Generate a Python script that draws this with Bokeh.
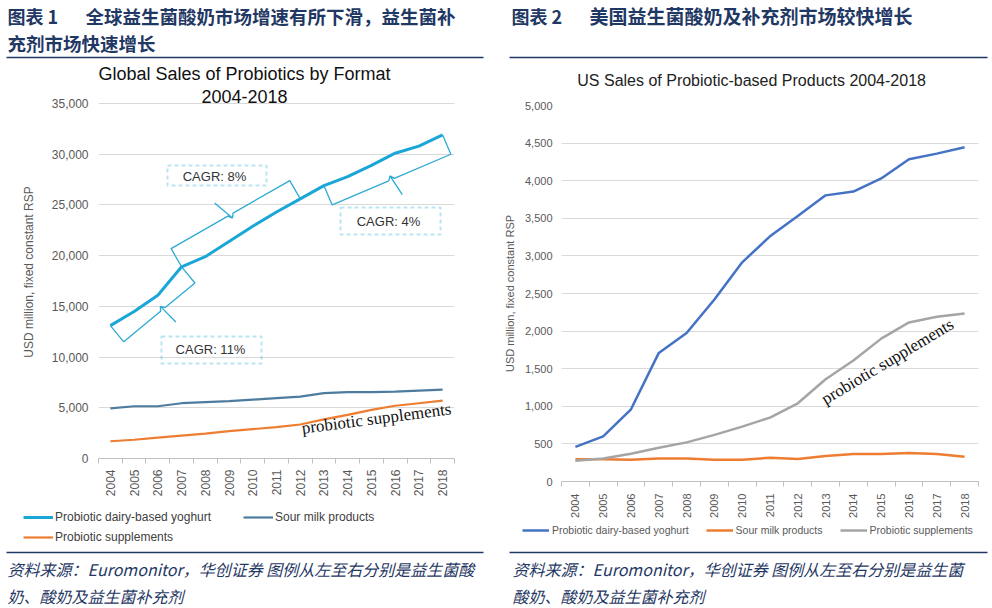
from math import hypot
from bokeh.plotting import figure
from bokeh.models import (Range1d, FixedTicker, NumeralTickFormatter, Label,
                          BoxAnnotation, Legend, LegendItem)
from bokeh.layouts import row, column
from bokeh.embed import file_html
from bokeh.resources import INLINE

# ---------------- data ----------------
years = [2004, 2005, 2006, 2007, 2008, 2009, 2010, 2011, 2012, 2013, 2014, 2015, 2016, 2017, 2018]

global_yoghurt = [13100, 14500, 16100, 18900, 19900, 21400, 22900, 24300, 25600, 26900, 27800, 28900, 30100, 30800, 31900]
global_sour = [4950, 5150, 5150, 5450, 5550, 5650, 5800, 5950, 6100, 6450, 6550, 6550, 6600, 6700, 6800]
global_supp = [1700, 1850, 2050, 2250, 2450, 2700, 2900, 3100, 3350, 3850, 4300, 4800, 5200, 5450, 5700]

us_yoghurt = [460, 600, 960, 1710, 1975, 2420, 2915, 3260, 3530, 3805, 3855, 4030, 4285, 4360, 4445]
us_sour = [295, 295, 290, 305, 305, 290, 290, 315, 300, 340, 365, 365, 380, 365, 330]
us_supp = [275, 305, 370, 450, 520, 620, 730, 850, 1040, 1360, 1610, 1900, 2115, 2190, 2235]

series_names = ["Probiotic dairy-based yoghurt", "Sour milk products", "Probiotic supplements"]
cagr_texts = ["CAGR: 11%", "CAGR: 8%", "CAGR: 4%"]
cagr_spans = [(0, 3), (3, 8), (9, 14)]

left_header = ["图表 1", "全球益生菌酸奶市场增速有所下滑，益生菌补", "充剂市场快速增长"]
right_header = ["图表 2", "美国益生菌酸奶及补充剂市场较快增长"]
left_footer = ["资料来源：Euromonitor，华创证券 图例从左至右分别是益生菌酸", "奶、酸奶及益生菌补充剂"]
right_footer = ["资料来源：Euromonitor，华创证券   图例从左至右分别是益生菌", "酸奶、酸奶及益生菌补充剂"]
left_title = ["Global Sales of Probiotics by Format", "2004-2018"]
right_title = "US  Sales  of  Probiotic-based  Products 2004-2018"
y_label = "USD million, fixed constant RSP"
note_text = "probiotic supplements"
left_ymax, right_ymax = 35000, 5000

NAVY = "#1F3864"
CJK = "Noto Sans CJK SC"
COL_L = ["#1AA6D6", "#4E7C9F", "#ED7D31"]
COL_R = ["#4472C4", "#ED7D31", "#A5A5A5"]
NAN = float("nan")


def blank(x0, x1, y0, y1):
    p = figure(width=x1 - x0, height=y1 - y0, x_range=Range1d(x0, x1), y_range=Range1d(y1, y0),
               output_backend="svg", toolbar_location=None, min_border=0,
               x_axis_location=None, y_axis_location=None, outline_line_color=None,
               background_fill_color="white", border_fill_color="white")
    p.frame_align = False
    p.xgrid.visible = False
    p.ygrid.visible = False
    return p


def txt(p, x, y, text, size, color="#000000", font="Liberation Sans", style="normal",
        align="left", angle=0.0):
    p.add_layout(Label(x=x, y=y, text=text, text_font=font, text_font_size=f"{size}px",
                       text_color=color, text_font_style=style, text_align=align,
                       text_baseline="middle", angle=angle))


def rule(p, x0, x1, y, color=NAVY, w=1.5):
    p.line([x0, x1], [y, y], line_color=color, line_width=w)


def chart(gx0, gy0, w, h, FL, FT, FR, FB, ytop, ytop_px):
    # FL.. are global (reference) pixel positions of the frame edges;
    # ytop is the top tick value, drawn at pixel row ytop_px (frame may reach higher)
    yend = ytop * (FB - FT) / (FB - ytop_px)
    p = figure(width=w, height=h, x_range=Range1d(years[0] - 0.5, years[-1] + 0.5),
               y_range=Range1d(0, yend), output_backend="svg", toolbar_location=None,
               min_border_left=FL - gx0, min_border_right=gx0 + w - FR,
               min_border_top=FT - gy0, min_border_bottom=gy0 + h - FB,
               outline_line_color=None, background_fill_color="white",
               border_fill_color="white")
    p.frame_align = False
    p.xgrid.grid_line_color = None
    p.ygrid.grid_line_color = "#D9D9D9"
    p.ygrid.grid_line_width = 1
    return p


def style_axes(p, fsize, ytop, ystep, xstand, ystand, lstand):
    p.xaxis.ticker = FixedTicker(ticks=years,
                                 minor_ticks=[y - 0.5 for y in years] + [years[-1] + 0.5])
    p.xaxis.major_label_orientation = 1.5708
    p.xaxis.major_tick_line_color = None
    p.xaxis.major_tick_out = 0
    p.xaxis.major_tick_in = 0
    p.xaxis.minor_tick_out = 5
    p.xaxis.minor_tick_in = 0
    p.xaxis.minor_tick_line_color = "#BFBFBF"
    p.xaxis.axis_line_color = "#BFBFBF"
    p.xaxis.major_label_standoff = xstand
    p.yaxis.ticker = FixedTicker(ticks=list(range(0, ytop + 1, ystep)))
    p.yaxis.formatter = NumeralTickFormatter(format="0,0")
    p.yaxis.axis_line_color = None
    p.yaxis.major_tick_line_color = None
    p.yaxis.minor_tick_line_color = None
    p.yaxis.major_tick_out = 0
    p.yaxis.major_label_standoff = ystand
    p.yaxis.axis_label = y_label
    p.yaxis.axis_label_standoff = lstand
    p.yaxis.axis_label_text_font = "Liberation Sans"
    p.yaxis.axis_label_text_font_size = fsize
    p.yaxis.axis_label_text_font_style = "normal"
    p.yaxis.axis_label_text_color = "#595959"
    for ax in (p.xaxis, p.yaxis):
        ax.major_label_text_font = "Liberation Sans"
        ax.major_label_text_font_size = fsize
        ax.major_label_text_color = "#595959"


def in_frame_label(p, FL, FB, x, y, text, size, color, font="Liberation Sans",
                   align="center", angle=0.0):
    p.add_layout(Label(x=x - FL, y=FB - y, x_units="screen", y_units="screen", text=text,
                       text_font=font, text_font_size=f"{size}px", text_color=color,
                       text_align=align, text_baseline="middle", angle=angle))


def dashed_box(p, FL, FB, x0, x1, y0, y1):
    p.add_layout(BoxAnnotation(left=x0 - FL, right=x1 - FL, top=FB - y0, bottom=FB - y1,
                               left_units="screen", right_units="screen", top_units="screen",
                               bottom_units="screen", fill_alpha=0, line_color="#1FA5D4",
                               line_width=2, line_dash="4 3", level="overlay"))


def make_legend(p, colors, widths, vx, vy, **kw):
    proxies = [p.line([NAN], [NAN], line_color=c, line_width=lw) for c, lw in zip(colors, widths)]
    leg = Legend(items=[LegendItem(label=n, renderers=[r]) for n, r in zip(series_names, proxies)],
                 location=(vx, vy), padding=0, margin=0, border_line_color=None,
                 background_fill_alpha=0, label_text_font="Liberation Sans", **kw)
    p.add_layout(leg)


# ================= LEFT HALF =================
HB = 85  # boundary between header strip and left chart frame
h1 = blank(0, 496, 0, HB)
txt(h1, 7, 15, left_header[0], 18, color=NAVY, font=CJK, style="bold")
txt(h1, 85, 15, left_header[1], 18.5, color=NAVY, font=CJK, style="bold")
txt(h1, 7, 42, left_header[2], 18.5, color=NAVY, font=CJK, style="bold")
rule(h1, 6, 483, 57)
txt(h1, 244, 73.5, left_title[0], 18, color="#111111", align="center")

L_FL, L_TOP, L_FR, L_FB = 98, 103, 454, 458
p1 = chart(0, HB, 496, 500 - HB, L_FL, HB, L_FR, L_FB, left_ymax, L_TOP)
style_axes(p1, "12px", left_ymax, 5000, 6, 10, 13)

p1.line(years, global_yoghurt, line_color=COL_L[0], line_width=3)
p1.line(years, global_sour, line_color=COL_L[1], line_width=2.2)
p1.line(years, global_supp, line_color=COL_L[2], line_width=2.2)

in_frame_label(p1, L_FL, L_FB, 244, 96, left_title[1], 18, "#111111")

sx_per = (L_FR - L_FL) / (years[-1] - years[0] + 1)
sy_per = (L_FB - L_TOP) / left_ymax


def to_px(x, y):
    return L_FL + (x - (years[0] - 0.5)) * sx_per, L_TOP + (left_ymax - y) * sy_per


def to_data(cx, cy):
    return (years[0] - 0.5) + (cx - L_FL) / sx_per, left_ymax - (cy - L_TOP) / sy_per


def brace(i0, i1, side, off=21, tick=18, frac=0.5, lean=8):
    x0, y0 = to_px(years[i0], global_yoghurt[i0])
    x1, y1 = to_px(years[i1], global_yoghurt[i1])
    dx, dy = x1 - x0, y1 - y0
    L = hypot(dx, dy)
    ux, uy = dx / L, dy / L
    nx, ny = -uy * side, ux * side
    mx, my = x0 + dx * frac, y0 + dy * frac
    pts = [(x0, y0), (x0 + nx * off, y0 + ny * off),
           (mx - ux * 3 + nx * off, my - uy * 3 + ny * off),
           (mx + nx * (off - 4), my + ny * (off - 4)),
           (mx + nx * (off + tick) + ux * lean, my + ny * (off + tick) + uy * lean),
           (mx + nx * (off - 4), my + ny * (off - 4)),
           (mx + ux * 3 + nx * off, my + uy * 3 + ny * off),
           (x1 + nx * off, y1 + ny * off), (x1, y1)]
    d = [to_data(a, b) for a, b in pts]
    p1.line([q[0] for q in d], [q[1] for q in d], line_color="#2EAAD4", line_width=1.3)


brace(cagr_spans[0][0], cagr_spans[0][1], +1, frac=0.55, lean=2)
brace(cagr_spans[1][0], cagr_spans[1][1], -1, frac=0.5, lean=-8)
brace(cagr_spans[2][0], cagr_spans[2][1], +1, frac=0.5, lean=4)

for (bx0, bx1, by0, by1, tx, ty), t in zip([(161, 261, 336, 363, 210, 349),
                                             (167, 266, 165, 185, 214, 176),
                                             (340, 440, 207, 234, 388, 221)], cagr_texts):
    dashed_box(p1, L_FL, L_FB, bx0, bx1, by0, by1)
    in_frame_label(p1, L_FL, L_FB, tx, ty, t, 13, "#333333")

in_frame_label(p1, L_FL, L_FB, 376, 418, note_text, 17, "#111111", font="Liberation Serif",
               angle=0.13)

f1 = blank(0, 496, 500, 608)
make_legend(f1, COL_L, [3, 2.2, 2.2], 23, 608 - 547, orientation="horizontal", ncols=2,
            glyph_width=30, glyph_height=20, label_height=20, label_width=188,
            label_standoff=2, spacing=0, label_text_font_size="12px",
            label_text_color="#404040")
rule(f1, 6, 483, 552)
txt(f1, 7, 568, left_footer[0], 16, color=NAVY, font=CJK, style="italic")
txt(f1, 7, 595, left_footer[1], 16, color=NAVY, font=CJK, style="italic")

# ================= RIGHT HALF =================
h2 = blank(496, 992, 0, 100)
txt(h2, 511, 15, right_header[0], 18, color=NAVY, font=CJK, style="bold")
txt(h2, 589, 15, right_header[1], 19, color=NAVY, font=CJK, style="bold")
rule(h2, 509, 987, 57)
txt(h2, 760, 80, right_title, 16, color="#222222", align="center")

R_FL, R_TOP, R_FR, R_FB = 561, 105, 978, 487
p2 = chart(496, 100, 496, 420, R_FL, R_TOP, R_FR, R_FB, right_ymax, R_TOP)
style_axes(p2, "11px", right_ymax, 500, 7, 9, 6)

p2.line(years, us_yoghurt, line_color=COL_R[0], line_width=2.5)
p2.line(years, us_sour, line_color=COL_R[1], line_width=2.5)
p2.line(years, us_supp, line_color=COL_R[2], line_width=2.5)

in_frame_label(p2, R_FL, R_FB, 887, 367, note_text, 17, "#111111", font="Liberation Serif",
               angle=0.54)

f2 = blank(496, 992, 520, 608)
make_legend(f2, COL_R, [2.5, 2.5, 2.5], 26, 608 - 540, orientation="horizontal",
            glyph_width=27, glyph_height=20, label_height=20, label_standoff=3, spacing=17,
            label_text_font_size="10.5px", label_text_color="#595959")
rule(f2, 509, 987, 552)
txt(f2, 512, 568, right_footer[0], 16, color=NAVY, font=CJK, style="italic")
txt(f2, 512, 595, right_footer[1], 16, color=NAVY, font=CJK, style="italic")

layout = row(column(h1, p1, f1), column(h2, p2, f2))
open("out.html", "w").write(file_html(layout, INLINE))
